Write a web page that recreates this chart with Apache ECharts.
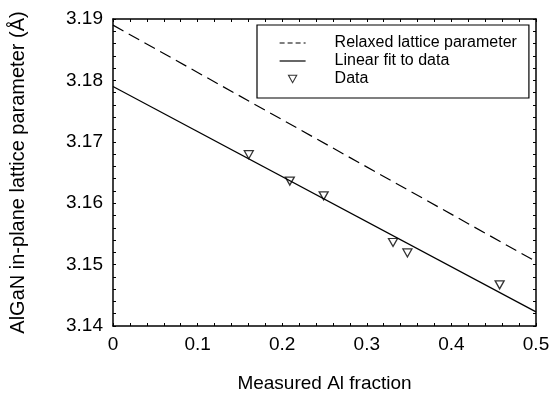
<!DOCTYPE html>
<html>
<head>
<meta charset="utf-8">
<script src="https://cdn.jsdelivr.net/npm/echarts@6/dist/echarts.min.js"></script>
<style>
html,body{margin:0;padding:0;background:#fff;}
#chart{width:553px;height:398px;}
</style>
</head>
<body>
<div id="chart"></div>
<script>
// Data
const relaxedX = [0, 0.5];
const relaxedY = [3.189, 3.1505];
const fitX = [0, 0.5];
const fitY = [3.179, 3.1423];
const dataX = [0.1605, 0.209, 0.249, 0.331, 0.348, 0.457];
const dataY = [3.1679, 3.1636, 3.1612, 3.1536, 3.1519, 3.1467];
const seriesNames = ['Relaxed lattice parameter', 'Linear fit to data', 'Data'];
const xTicks = [0, 0.1, 0.2, 0.3, 0.4, 0.5];
const yTicks = [3.14, 3.15, 3.16, 3.17, 3.18, 3.19];

const zip = (a, b) => a.map((v, i) => [v, b[i]]);
const FONT = 'Liberation Sans';

const chart = echarts.init(document.getElementById('chart'), null, {renderer: 'canvas'});

const axisCommon = {
  axisLine: {show: true, onZero: false, lineStyle: {color: '#000', width: 1.5}},
  axisTick: {show: true, inside: true, length: 3, lineStyle: {color: '#000', width: 1}},
  minorTick: {show: true, splitNumber: 5, length: 3, lineStyle: {color: '#000', width: 1}},
  splitLine: {show: false}
};

chart.setOption({
  animation: false,
  backgroundColor: '#fff',
  textStyle: {fontFamily: FONT, color: '#000'},
  grid: {left: 103, right: 17, top: 19, bottom: 66, containLabel: false},
  xAxis: [
    Object.assign({}, axisCommon, {
      type: 'value', position: 'bottom',
      min: xTicks[0], max: xTicks[xTicks.length - 1], interval: 0.1,
      name: 'Measured Al fraction', nameLocation: 'middle', nameGap: 48,
      nameTextStyle: {fontFamily: FONT, fontSize: 19, color: '#000'},
      axisLabel: {show: true, margin: 9, fontFamily: FONT, fontSize: 19, color: '#000',
        formatter: v => (Math.abs(v) < 1e-9 ? '0' : String(+v.toFixed(1)))}
    }),
    Object.assign({}, axisCommon, {
      type: 'value', position: 'top',
      min: xTicks[0], max: xTicks[xTicks.length - 1], interval: 0.1,
      axisLabel: {show: false}
    })
  ],
  yAxis: [
    Object.assign({}, axisCommon, {
      type: 'value', position: 'left',
      min: yTicks[0], max: yTicks[yTicks.length - 1], interval: 0.01,
      name: 'AlGaN in-plane lattice parameter (Å)', nameLocation: 'middle', nameGap: 85,
      nameTextStyle: {fontFamily: FONT, fontSize: 20, color: '#000'},
      axisLabel: {show: true, margin: 10, fontFamily: FONT, fontSize: 19, color: '#000',
        formatter: v => v.toFixed(2)}
    }),
    Object.assign({}, axisCommon, {
      type: 'value', position: 'right',
      min: yTicks[0], max: yTicks[yTicks.length - 1], interval: 0.01,
      axisLabel: {show: false}
    })
  ],
  legend: {
    show: true,
    orient: 'vertical',
    left: 257, top: 25,
    padding: [9, 12, 10, 22],
    itemGap: 0,
    itemWidth: 26, itemHeight: 14,
    borderColor: '#000', borderWidth: 1.2,
    backgroundColor: '#fff',
    textStyle: {fontFamily: FONT, fontSize: 16, color: '#000', lineHeight: 18, padding: [0, 0, 0, 24]},
    data: [
      {name: seriesNames[0], itemStyle: {opacity: 0}, lineStyle: {type: [5, 3], width: 1.2}},
      {name: seriesNames[1], itemStyle: {opacity: 0}, lineStyle: {width: 1.2}},
      {name: seriesNames[2], icon: 'path://M-6,-4 M0,0 L10,0 L5,9 Z M16,13',
        itemStyle: {color: '#fff', borderColor: '#000', borderWidth: 1.1}}
    ]
  },
  series: [
    {
      name: seriesNames[0], type: 'line', data: zip(relaxedX, relaxedY),
      symbol: 'circle', showSymbol: false, silent: true,
      lineStyle: {color: '#000', width: 1.2, type: [12, 6]},
      itemStyle: {color: '#000'}
    },
    {
      name: seriesNames[1], type: 'line', data: zip(fitX, fitY),
      symbol: 'circle', showSymbol: false, silent: true,
      lineStyle: {color: '#000', width: 1.2, type: 'solid'},
      itemStyle: {color: '#000'}
    },
    {
      name: seriesNames[2], type: 'scatter', data: zip(dataX, dataY),
      symbol: 'path://M0,0 L10,0 L5,9 Z', symbolSize: [9, 8],
      itemStyle: {color: '#fff', borderColor: '#000', borderWidth: 1.3}
    }
  ]
});
</script>
</body>
</html>
